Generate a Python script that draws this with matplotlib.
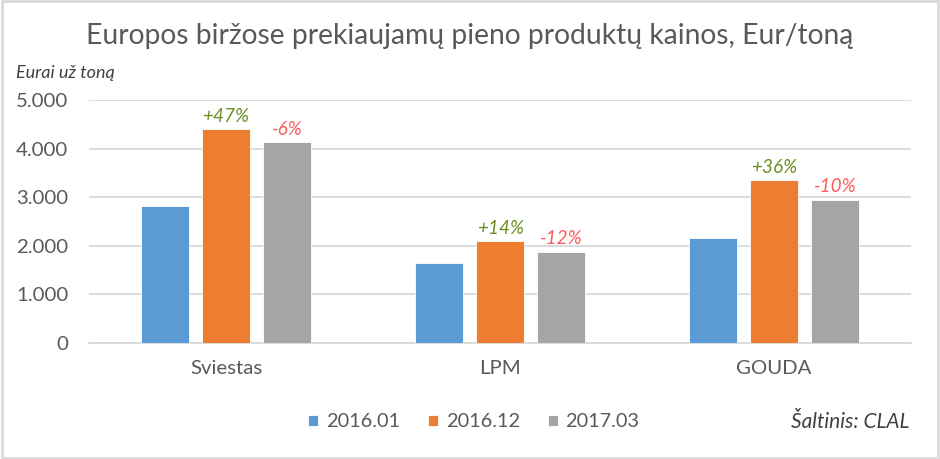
import matplotlib.pyplot as plt
import numpy as np

# data
categories = ["Sviestas", "LPM", "GOUDA"]
series = ["2016.01", "2016.12", "2017.03"]
v_2016_01 = [2820, 1650, 2170]
v_2016_12 = [4400, 2095, 3360]
v_2017_03 = [4140, 1880, 2950]
change_dec = ["+47%", "+14%", "+36%"]
change_mar = ["-6%", "-12%", "-10%"]
colors = ["#5B9BD5", "#ED7D31", "#A5A5A5"]
yticks = [0, 1000, 2000, 3000, 4000, 5000]
ytick_labels = ["0", "1.000", "2.000", "3.000", "4.000", "5.000"]

plt.rcParams['font.family'] = ['Lato', 'DejaVu Sans']
txt = "#595959"

fig = plt.figure(figsize=(9.4, 4.59), dpi=100)
ax = fig.add_axes([0.0947, 0.2527, 0.8745, 0.5294])

x = np.arange(len(categories))
w = 0.175
step = 0.2226
values = [v_2016_01, v_2016_12, v_2017_03]
bars = []
for i, vals in enumerate(values):
    b = ax.bar(x + (i - 1) * step, vals, width=w, color=colors[i],
               edgecolor="white", linewidth=0.6, label=series[i], zorder=3)
    bars.append(b)

# percentage annotations above the 2016.12 and 2017.03 bars
for j in range(len(categories)):
    ax.annotate(change_dec[j], (x[j], v_2016_12[j]), xytext=(0, 3),
                textcoords="offset points", ha="center", va="bottom",
                fontsize=13.6, style="italic", color="#6B8E23")
    ax.annotate(change_mar[j], (x[j] + step, v_2017_03[j]), xytext=(0, 3),
                textcoords="offset points", ha="center", va="bottom",
                fontsize=13.6, style="italic", color="#FF5B5B")

ax.set_xlim(-0.5, 2.5)
ax.set_ylim(0, 5000)
ax.set_yticks(yticks)
ax.set_yticklabels(ytick_labels)
ax.set_xticks(x)
ax.set_xticklabels(categories)
ax.tick_params(axis="both", length=0, labelsize=14.7, colors=txt)
ax.tick_params(axis="y", pad=15)
ax.tick_params(axis="x", pad=12)
ax.grid(axis="y", color="#D9D9D9", linewidth=1.3, zorder=0)
for s in ["top", "right", "left"]:
    ax.spines[s].set_visible(False)
ax.spines["bottom"].set_color("#D9D9D9")
ax.spines["bottom"].set_linewidth(1.3)

fig.text(0.5, 0.922, "Europos biržose prekiaujamų pieno produktų kainos, Eur/toną",
         ha="center", va="center", fontsize=20.3, color=txt)
fig.text(0.017, 0.842, "Eurai už toną", ha="left", va="center",
         fontsize=13, style="italic", color="#404040")

fig.legend(handles=bars, labels=series, loc="center", bbox_to_anchor=(0.504, 0.081),
           ncol=3, frameon=False, fontsize=14.3, labelcolor=txt,
           handlelength=0.5, handleheight=0.5, handletextpad=0.4, columnspacing=1.4)
fig.text(0.967, 0.081, "Šaltinis: CLAL", ha="right", va="center",
         fontsize=15, style="italic", color="#404040")

# light frame around the whole chart
fig.patches.append(plt.Rectangle((0.002, 0.003), 0.996, 0.994, transform=fig.transFigure,
                                 fill=False, edgecolor="#D9D9D9", linewidth=2))

fig.savefig("out.png", dpi=100, facecolor="white")
